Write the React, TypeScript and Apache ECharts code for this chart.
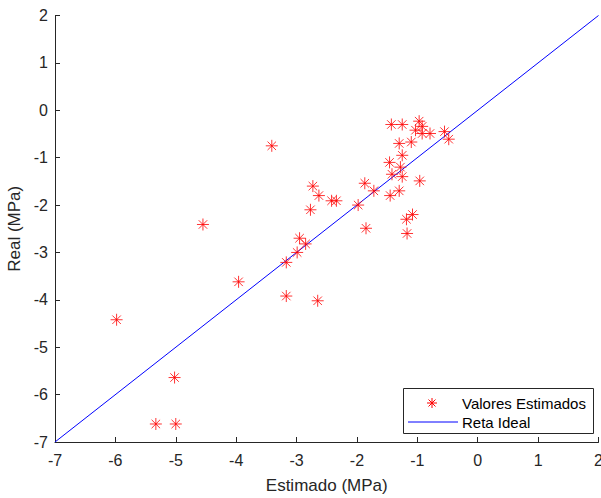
import React, { useEffect, useRef } from "react";
import * as echarts from "echarts";

const estimado: number[] = [
  -5.98, -5.33, -5.0, -5.02, -4.55, -3.96, -3.41, -3.17, -3.17, -2.99, -2.95,
  -2.85, -2.65, -2.77, -2.73, -2.63, -2.42, -2.34, -1.98, -1.87, -1.85, -1.72,
  -1.45, -1.42, -1.46, -1.3, -1.28, -1.25, -1.25, -1.3, -1.1, -1.43, -1.25,
  -0.97, -0.92, -1.03, -0.92, -0.79, -0.55, -0.48, -0.96, -1.08, -1.18, -1.17,
];
const real: number[] = [
  -4.42, -6.62, -6.62, -5.64, -2.41, -3.62, -0.75, -3.21, -3.92, -3.0, -2.7,
  -2.82, -4.02, -2.1, -1.6, -1.8, -1.91, -1.91, -2.0, -1.54, -2.49, -1.7, -1.8,
  -1.35, -1.1, -1.7, -1.2, -1.4, -0.95, -0.7, -0.67, -0.3, -0.3, -0.23, -0.34,
  -0.42, -0.49, -0.49, -0.45, -0.61, -1.49, -2.2, -2.3, -2.6,
];
const idealX: number[] = [-7, 2];
const idealY: number[] = [-7, 2];
const seriesNames = ["Valores Estimados", "Reta Ideal"];
const xName = "Estimado (MPa)";
const yName = "Real (MPa)";

const STAR = "path://M6,0L6,12M0,6L12,6M1.76,1.76L10.24,10.24M1.76,10.24L10.24,1.76";
const AX = "#262626";
const FONT = "'Liberation Sans', Arial, Helvetica, sans-serif";

export default function App() {
  const ref = useRef<HTMLDivElement>(null);
  useEffect(() => {
    if (!ref.current) return;
    const chart = echarts.init(ref.current, undefined, { renderer: "svg" });
    const axisCommon = {
      type: "value" as const,
      min: -7,
      max: 2,
      interval: 1,
      nameLocation: "middle" as const,
      nameTextStyle: { color: AX, fontSize: 17, fontFamily: FONT },
      axisLine: { show: true, onZero: false, lineStyle: { color: AX, width: 1 } },
      axisTick: { show: true, inside: true, length: 5, lineStyle: { color: AX } },
      axisLabel: { color: AX, fontSize: 16, fontFamily: FONT },
      splitLine: { show: false },
    };
    const lx = 403, ly = 388, lw = 190, lh = 45;
    const sx = 432, sy = 403, r = 5;
    chart.setOption({
      animation: false,
      backgroundColor: "#ffffff",
      grid: {
        left: 55,
        right: 2.5,
        top: 15.5,
        bottom: 56,
        containLabel: false,
        outerBoundsMode: "none",
      },
      xAxis: {
        ...axisCommon,
        name: xName,
        nameGap: 35,
        axisLabel: { ...axisCommon.axisLabel, margin: 10 },
      },
      yAxis: {
        ...axisCommon,
        name: yName,
        nameGap: 30,
        axisLabel: { ...axisCommon.axisLabel, margin: 7 },
      },
      series: [
        {
          name: seriesNames[0],
          type: "scatter",
          data: estimado.map((x, i) => [x, real[i]]),
          symbol: STAR,
          symbolSize: 12,
          itemStyle: { color: "rgba(255,0,0,0)", borderColor: "#ff0000", borderWidth: 1 },
          z: 3,
        },
        {
          name: seriesNames[1],
          type: "line",
          data: idealX.map((x, i) => [x, idealY[i]]),
          showSymbol: false,
          symbol: "none",
          lineStyle: { color: "#0000ff", width: 1 },
          z: 2,
        },
      ],
      graphic: [
        {
          type: "rect",
          shape: { x: lx + 0.5, y: ly + 0.5, width: lw, height: lh },
          style: { fill: "#ffffff", stroke: AX, lineWidth: 1 },
          z: 10,
        },
        ...[
          [sx - r, sy, sx + r, sy],
          [sx, sy - r, sx, sy + r],
          [sx - r * 0.7, sy - r * 0.7, sx + r * 0.7, sy + r * 0.7],
          [sx - r * 0.7, sy + r * 0.7, sx + r * 0.7, sy - r * 0.7],
        ].map((p) => ({
          type: "line",
          shape: { x1: p[0], y1: p[1], x2: p[2], y2: p[3] },
          style: { stroke: "#ff0000", lineWidth: 1 },
          z: 11,
        })),
        {
          type: "line",
          shape: { x1: 408, y1: 422, x2: 458, y2: 422 },
          style: { stroke: "#0000ff", lineWidth: 1 },
          z: 11,
        },
        {
          type: "text",
          x: 462,
          y: 403,
          style: { text: seriesNames[0], fill: "#000000", font: `15px ${FONT}`, verticalAlign: "middle" },
          z: 11,
        },
        {
          type: "text",
          x: 462,
          y: 422,
          style: { text: seriesNames[1], fill: "#000000", font: `15px ${FONT}`, verticalAlign: "middle" },
          z: 11,
        },
      ],
    });
    return () => chart.dispose();
  }, []);
  return <div ref={ref} style={{ width: 601, height: 498, position: "absolute", left: 0, top: 0 }} />;
}
